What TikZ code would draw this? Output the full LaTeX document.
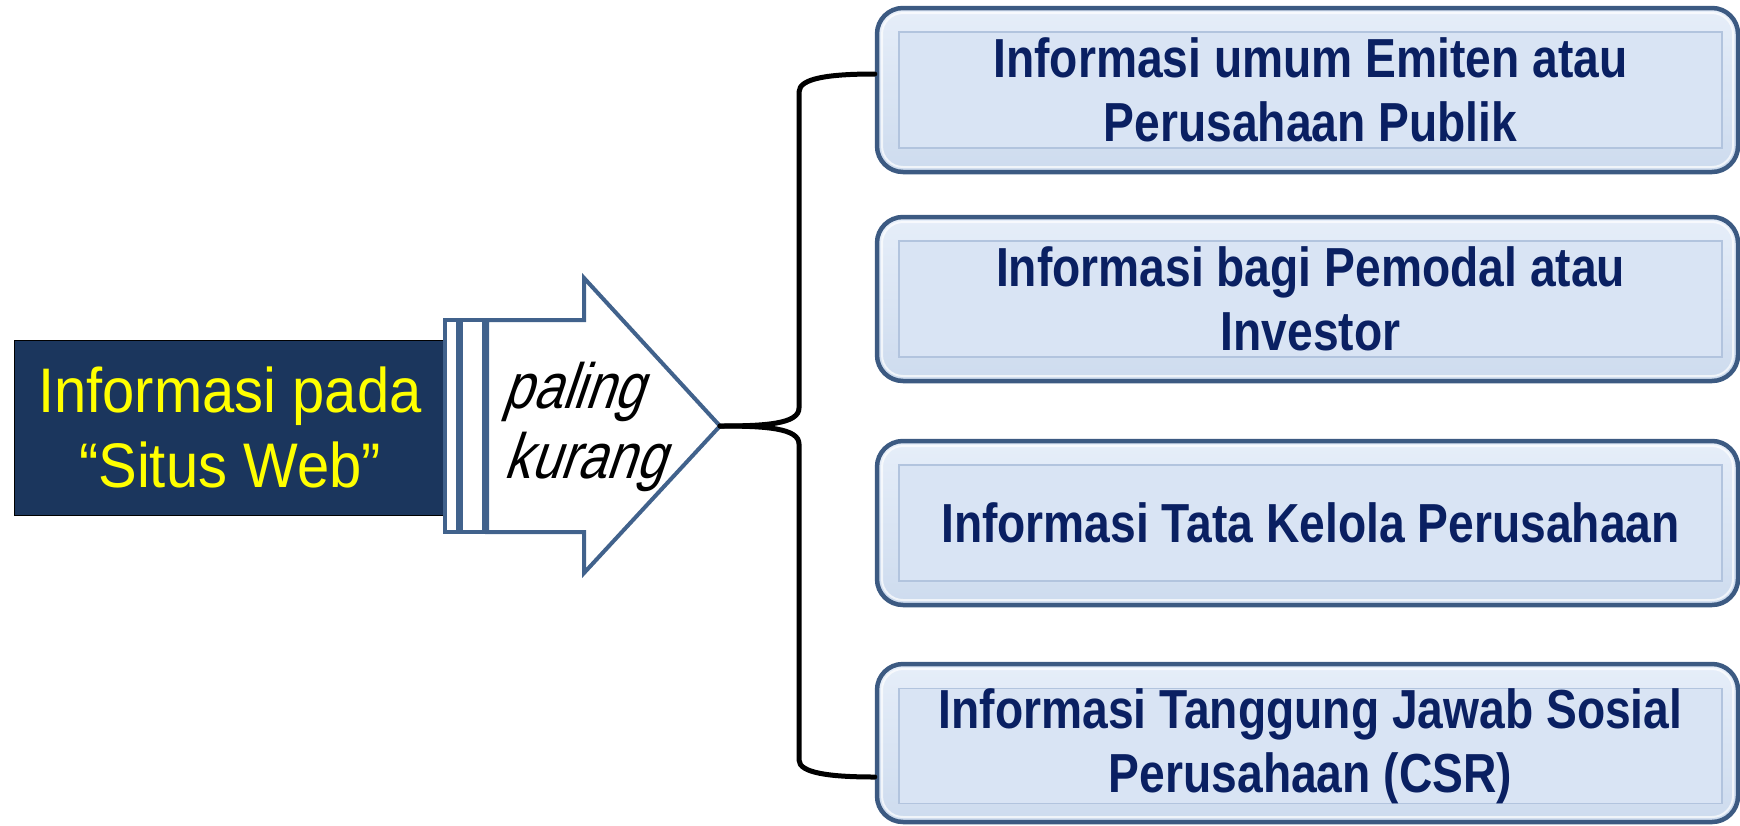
\documentclass[tikz,border=0pt]{standalone}
\usepackage{fontspec}
\setmainfont{Liberation Sans}
\newfontfamily\boxfont[FakeStretch=0.84]{Liberation Sans}
\newfontfamily\leftfont[FakeStretch=0.92]{Liberation Sans}
\newfontfamily\itfont[FakeStretch=0.82,FakeSlant=0.34]{Liberation Sans}
\definecolor{navy}{RGB}{27,54,93}
\definecolor{boxtext}{RGB}{10,32,98}
\definecolor{arrowblue}{RGB}{65,98,140}
\definecolor{boxborder}{RGB}{60,90,130}
\definecolor{boxtop}{RGB}{230,238,249}
\definecolor{boxbot}{RGB}{205,219,238}
\definecolor{innerfill}{RGB}{217,228,244}
\definecolor{innerline}{RGB}{178,196,222}
\definecolor{yel}{RGB}{255,255,0}
\tikzset{
  obox/.style={draw=boxborder, line width=4.5pt, rounded corners=26pt,
    top color=boxtop, bottom color=boxbot, minimum width=861pt, minimum height=164pt, inner sep=0pt},
  hilite/.style={draw=white, draw opacity=0.7, line width=2pt, rounded corners=21pt, inner sep=0pt},
  ibox/.style={draw=innerline, line width=1.5pt, fill=innerfill, minimum width=823pt,
    minimum height=116pt, inner sep=0pt, align=center, text=boxtext,
    font=\boxfont\bfseries\fontsize{55}{64}\selectfont},
  arrowline/.style={draw=arrowblue, line width=4pt, fill=white, line join=miter},
  lefttext/.style={text=yel, font=\leftfont\fontsize{63}{74}\selectfont, anchor=base, inner sep=0pt},
  ittext/.style={text=black, font=\itfont\fontsize{64}{70}\selectfont, anchor=base, inner sep=0pt},
  brace/.style={draw=black, line width=5pt, line cap=round, line join=round}
}
\begin{document}
\begin{tikzpicture}[x=1pt,y=-1pt]
\useasboundingbox (0,0) rectangle (1740,825);
% left dark box
\node[draw=black, line width=1pt, fill=navy, minimum width=431pt, minimum height=175pt, inner sep=0pt] (src) at (229.5,427.5) {};
\node[lefttext] (l1) at (230,412) {Informasi pada};
\node[lefttext] (l2) at (230,487) {“Situs Web”};
% bars and arrow
\draw[arrowline] (445,320) rectangle (458,532);
\draw[arrowline] (461,320) rectangle (484,532);
\draw[arrowline] (487,320) -- (584,320) -- (584,278) -- (720,426) -- (584,573) -- (584,532) -- (487,532) -- cycle;
\coordinate (tip) at (720,426);
\node[ittext] (p1) at (573,408) {paling};
\node[ittext] (p2) at (584,478) {kurang};
% boxes
\node[obox] (b1) at (1307.5,90) {};
\node[hilite, minimum width=851pt, minimum height=154pt] at (b1.center) {};
\node[ibox] (t1) at (1310.5,90) {Informasi umum Emiten atau\\Perusahaan Publik};
\node[obox] (b2) at (1307.5,299) {};
\node[hilite, minimum width=851pt, minimum height=154pt] at (b2.center) {};
\node[ibox] (t2) at (1310.5,299) {Informasi bagi Pemodal atau\\Investor};
\node[obox] (b3) at (1307.5,523) {};
\node[hilite, minimum width=851pt, minimum height=154pt] at (b3.center) {};
\node[ibox] (t3) at (1310.5,523) {Informasi Tata Kelola Perusahaan};
\node[obox, minimum height=158pt] (b4) at (1307.5,743) {};
\node[hilite, minimum width=851pt, minimum height=148pt] at (b4.center) {};
\node[ibox, minimum height=112pt] (t4) at (1310.5,746) {Informasi Tanggung Jawab Sosial\\Perusahaan (CSR)};
% brace
\coordinate (c1) at (b1.west |- 0,74);
\coordinate (c4) at (b4.west |- 0,777);
\draw[brace] (tip) .. controls (765,426) and (799,424) .. (799,408) -- (799,92)
  .. controls (799,78) and (830,74) .. (c1);
\draw[brace] (tip) .. controls (765,426) and (799,428) .. (799,444) -- (799,760)
  .. controls (799,773) and (830,777) .. (c4);
\end{tikzpicture}
\end{document}
